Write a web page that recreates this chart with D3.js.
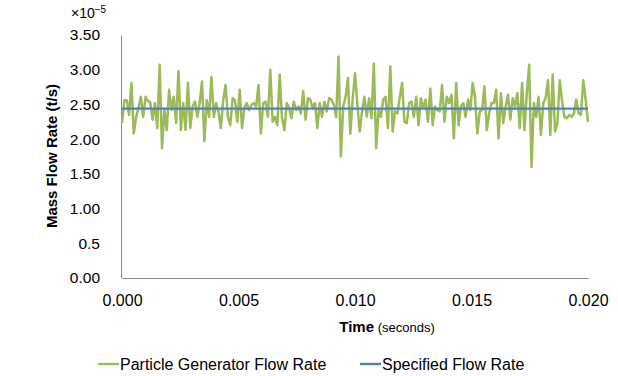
<!DOCTYPE html>
<html>
<head>
<meta charset="utf-8">
<script src="https://cdn.jsdelivr.net/npm/d3@7"></script>
<style>
  body { margin: 0; background: #fff; }
  text { font-family: "Liberation Sans", Arial, sans-serif; fill: #000; }
</style>
</head>
<body>
<div id="chart"></div>
<script>
// Mass flow rate samples (x 1e-5 t/s), one every dt seconds
const generatorRate = [
  2.23, 2.56, 2.56, 2.35, 2.81, 2.08, 2.32, 2.45, 2.61, 2.32, 2.61, 2.55, 2.53, 2.28, 2.52, 2.16, 3.07, 1.87, 2.42, 2.13,
  2.71, 2.42, 2.61, 2.23, 2.98, 2.13, 2.52, 2.13, 2.81, 2.16, 2.47, 2.54, 2.32, 2.52, 2.83, 1.97, 2.56, 2.32, 2.90, 2.32,
  2.52, 2.40, 2.16, 2.56, 2.78, 2.32, 2.20, 2.59, 2.56,
  2.25, 2.71, 2.16, 2.45, 2.52, 2.42, 2.49, 2.52, 2.47, 2.78, 2.08, 2.52, 2.54, 2.32, 3.00, 2.25, 2.32, 2.20, 2.93, 2.30,
  2.13, 2.52, 2.45, 2.30, 2.54, 2.42, 2.47, 2.37, 2.69, 2.28, 2.59, 2.57, 2.45, 2.52, 2.16, 2.52, 2.32, 2.54, 2.40, 2.59,
  2.57, 2.49, 2.32, 3.19, 1.75, 2.47, 2.61, 2.88, 2.08,
  2.57, 2.95, 2.50, 2.11, 2.40, 2.61, 2.32, 2.59, 2.30, 3.09, 1.87, 2.42, 2.32, 2.57, 2.61, 2.16, 3.05, 2.11, 2.40, 2.37,
  2.60, 2.81, 2.25, 2.23, 2.52, 2.54, 2.32, 2.61, 2.20, 2.59, 2.45, 2.57, 2.25, 2.73, 2.20, 2.47, 2.42, 2.40, 2.78, 2.25,
  2.61, 2.52, 2.64, 2.01, 2.81, 2.20, 2.47, 2.52, 2.32, 2.57, 2.42, 2.81,
  2.60, 2.08, 2.40, 2.42, 2.76, 2.13, 2.37, 2.52, 2.52, 2.71, 2.01, 2.66, 2.23, 2.47, 2.64, 2.28, 2.59, 2.47, 2.66, 2.16,
  2.81, 2.13, 2.66, 3.07, 1.60, 2.52, 2.32, 2.61, 2.06, 2.52, 2.59, 2.85, 2.06, 2.93, 2.11, 2.23, 2.85, 2.54, 2.32, 2.30,
  2.35, 2.32, 2.37, 2.57, 2.37, 2.35, 2.85, 2.57, 2.25
];
const specifiedRate = 2.44;
const tEnd = 0.02;
const dt = tEnd / (generatorRate.length - 1);

const yTicks = [0, 0.5, 1, 1.5, 2, 2.5, 3, 3.5];
const yTickLabels = ["0.00", "0.5", "1.00", "1.50", "2.00", "2.50", "3.00", "3.50"];
const xTicks = [0, 0.005, 0.01, 0.015, 0.02];

const seriesNames = ["Particle Generator Flow Rate", "Specified Flow Rate"];
const seriesColors = ["#9BBB59", "#4F81BD"];

const W = 618, H = 376;
const margin = { top: 35, right: 30, bottom: 98, left: 122 };
const width = W - margin.left - margin.right;
const height = H - margin.top - margin.bottom;

const svg = d3.select("#chart").append("svg")
    .attr("width", W)
    .attr("height", H);

const g = svg.append("g")
    .attr("transform", "translate(" + margin.left + "," + margin.top + ")");

const x = d3.scaleLinear().domain([0, tEnd]).range([0, width]);
const y = d3.scaleLinear().domain([0, 3.5]).range([height, 0]);

// axes
const xAxis = d3.axisBottom(x).tickValues(xTicks).tickSize(0).tickPadding(17)
    .tickFormat(d3.format(".3f"));
const yAxis = d3.axisLeft(y).tickValues(yTicks).tickSize(0).tickPadding(21)
    .tickFormat((d, i) => yTickLabels[i]);

g.append("g")
    .attr("class", "x-axis")
    .attr("transform", "translate(0," + height + ")")
    .call(xAxis);

g.append("g")
    .attr("class", "y-axis")
    .attr("transform", "translate(-1,0)")
    .call(yAxis);

g.selectAll(".domain").attr("stroke", "#8c8c8c").attr("stroke-width", 1);
g.selectAll(".tick text")
    .attr("font-family", "Liberation Sans, Arial, sans-serif")
    .attr("fill", "#000");
g.selectAll(".x-axis .tick text").attr("font-size", 16);
g.selectAll(".y-axis .tick text").attr("font-size", 15.5);

// lines
const line = d3.line()
    .x((d, i) => x(i * dt))
    .y(d => y(d));

g.append("path")
    .datum(generatorRate)
    .attr("fill", "none")
    .attr("stroke", seriesColors[0])
    .attr("stroke-width", 2.5)
    .attr("stroke-linejoin", "round")
    .attr("d", line);

g.append("line")
    .attr("x1", x(0))
    .attr("x2", x(tEnd))
    .attr("y1", y(specifiedRate))
    .attr("y2", y(specifiedRate))
    .attr("stroke", seriesColors[1])
    .attr("stroke-width", 2.4);

// exponent label
const expo = svg.append("text")
    .attr("x", 71)
    .attr("y", 18)
    .attr("font-size", 14);
expo.append("tspan").text("×10");
expo.append("tspan").attr("dy", -5).attr("font-size", 10).text("−5");

// axis titles
svg.append("text")
    .attr("transform", "translate(57,156) rotate(-90)")
    .attr("text-anchor", "middle")
    .attr("font-size", 15)
    .attr("font-weight", "bold")
    .text("Mass Flow Rate (t/s)");

const xt = svg.append("text")
    .attr("x", 387)
    .attr("y", 332)
    .attr("text-anchor", "middle")
    .attr("font-size", 15);
xt.append("tspan").attr("font-weight", "bold").text("Time");
xt.append("tspan").attr("font-size", 13).text(" (seconds)");

// legend
const legendX = [98, 360];
const legend = svg.selectAll(".legend")
    .data(seriesNames)
    .enter()
    .append("g")
    .attr("class", "legend")
    .attr("transform", (d, i) => "translate(" + legendX[i] + ",364)");

legend.append("line")
    .attr("x1", 0).attr("x2", 21)
    .attr("stroke", (d, i) => seriesColors[i])
    .attr("stroke-width", 2.4);

legend.append("text")
    .attr("x", 22)
    .attr("y", 5.5)
    .attr("font-size", 16)
    .text(d => d);
</script>
</body>
</html>
